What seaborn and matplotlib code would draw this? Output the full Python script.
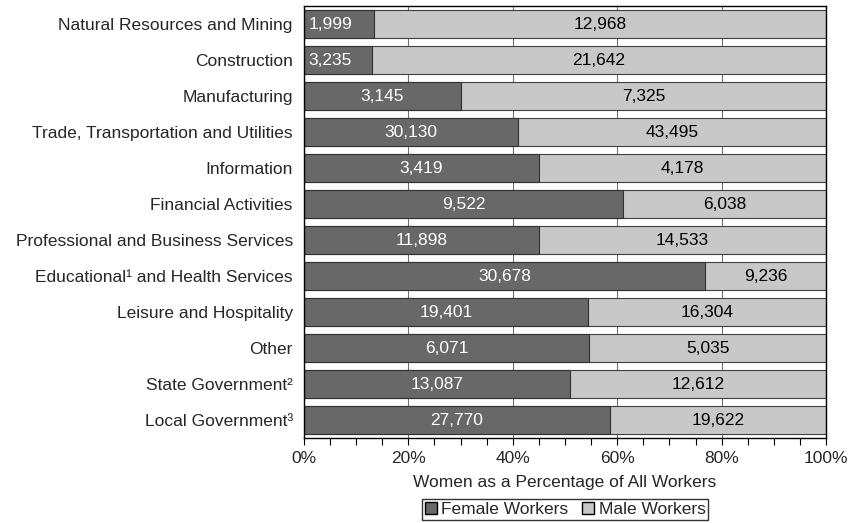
import matplotlib
matplotlib.use("Agg")
import matplotlib.pyplot as plt
from matplotlib.ticker import MultipleLocator, FuncFormatter
from matplotlib.patches import Patch
import pandas as pd
import seaborn as sns

# workers by industry, female vs male counts
industries = [
    "Natural Resources and Mining",
    "Construction",
    "Manufacturing",
    "Trade, Transportation and Utilities",
    "Information",
    "Financial Activities",
    "Professional and Business Services",
    "Educational\u00b9 and Health Services",
    "Leisure and Hospitality",
    "Other",
    "State Government\u00b2",
    "Local Government\u00b3",
]
female = [1999, 3235, 3145, 30130, 3419, 9522, 11898, 30678, 19401, 6071, 13087, 27770]
male = [12968, 21642, 7325, 43495, 4178, 6038, 14533, 9236, 16304, 5035, 12612, 19622]

FEMALE_COLOR = "#686868"
MALE_COLOR = "#c8c8c8"
FS = 12.5

df = pd.DataFrame({"industry": industries, "female": female, "male": male})
df["female_pct"] = df.female / (df.female + df.male) * 100
df["total_pct"] = 100.0

sns.set_style("white")
plt.rcParams["font.family"] = ["Liberation Sans", "DejaVu Sans"]

fig = plt.figure(figsize=(8.65, 5.23), dpi=100)
ax = fig.add_axes([0.3514, 0.1625, 0.6036, 0.826])

sns.barplot(data=df, x="total_pct", y="industry", orient="h", color=MALE_COLOR,
            width=0.8, edgecolor="#404040", linewidth=0.8, saturation=1, ax=ax)
sns.barplot(data=df, x="female_pct", y="industry", orient="h", color=FEMALE_COLOR,
            width=0.8, edgecolor="#303030", linewidth=0.8, saturation=1, ax=ax)

# value labels
for i, row in df.iterrows():
    fp = row.female_pct
    if fp < 15:
        ax.text(0.8, i, f"{row.female:,}", ha="left", va="center", color="white", fontsize=FS)
    else:
        ax.text(fp / 2, i, f"{row.female:,}", ha="center", va="center", color="white", fontsize=FS)
    ax.text((fp + 100) / 2, i, f"{row.male:,}", ha="center", va="center", color="black", fontsize=FS)

ax.set_xlim(0, 100)
ax.xaxis.set_major_locator(MultipleLocator(20))
ax.xaxis.set_minor_locator(MultipleLocator(5))
ax.xaxis.set_major_formatter(FuncFormatter(lambda v, p: f"{v:.0f}%"))
ax.tick_params(axis="x", which="both", direction="out", length=5, width=0.8, color="black",
               bottom=True, labelsize=FS, pad=4)
ax.tick_params(axis="y", length=0, labelsize=FS, pad=8)
ax.xaxis.grid(True, color="#707070", linewidth=0.8)
ax.set_axisbelow(True)
for s in ax.spines.values():
    s.set_visible(True)
    s.set_color("black")
    s.set_linewidth(1.0)

ax.set_xlabel("Women as a Percentage of All Workers", fontsize=FS, labelpad=7)
ax.set_ylabel("")

handles = [Patch(facecolor=FEMALE_COLOR, edgecolor="black", label="Female Workers"),
           Patch(facecolor=MALE_COLOR, edgecolor="black", label="Male Workers")]
leg = ax.legend(handles=handles, loc="upper center", bbox_to_anchor=(0.5, -0.142), ncol=2,
                frameon=True, fancybox=False, edgecolor="black", fontsize=FS,
                handlelength=0.7, handleheight=0.7, handletextpad=0.25, columnspacing=0.8,
                borderpad=0.15, borderaxespad=0)
leg.get_frame().set_linewidth(1.0)

fig.savefig("out.png", dpi=100)
